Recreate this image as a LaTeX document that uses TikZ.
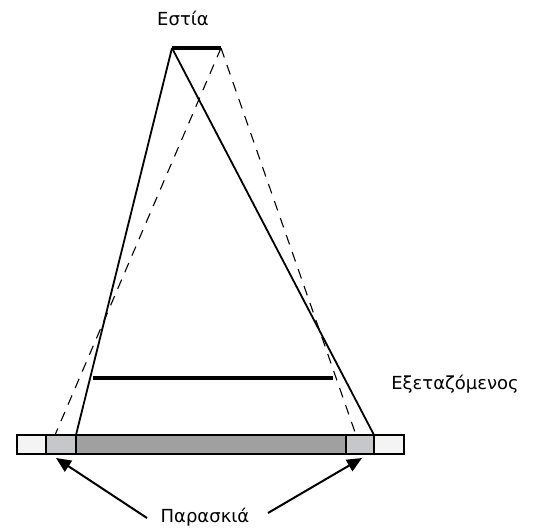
\documentclass[tikz,border=0pt]{standalone}
\usepackage{fontspec}
\setmainfont{DejaVu Sans}
\usetikzlibrary{arrows.meta}
\definecolor{pale}{HTML}{F4F4F4}
\definecolor{lgray}{HTML}{C6C7C8}
\definecolor{dgray}{HTML}{A0A0A0}
\tikzset{
  ray/.style={line width=1.8pt},
  dray/.style={line width=1.1pt, dash pattern=on 10pt off 8pt},
  bar/.style={line width=3.2pt},
  cell/.style={draw=black, line width=1.8pt},
  lab/.style={font=\fontsize{18}{21}\selectfont, inner sep=0pt},
  pointer/.style={line width=2pt, -{Triangle[length=15pt,width=13pt]}}
}
\begin{document}
\begin{tikzpicture}[x=1pt,y=-1pt]
\useasboundingbox (0,0) rectangle (538,532);
% screen strip
\draw[cell, fill=pale] (17,435) rectangle (46,454);
\draw[cell, fill=lgray] (46,435) rectangle (76,454);
\draw[cell, fill=dgray] (76,435) rectangle (346,454);
\draw[cell, fill=lgray] (346,435) rectangle (374,454);
\draw[cell, fill=pale] (374,435) rectangle (404,454);
% coordinates
\coordinate (fA) at (172,48);
\coordinate (fB) at (221,48);
\coordinate (sL) at (76,435);
\coordinate (sR) at (374,435);
\coordinate (dL) at (55,435);
\coordinate (dR) at (356,435);
\coordinate (oA) at (93,378);
\coordinate (oB) at (333,378);
% focus and object
\draw[bar] (fA) -- (fB);
\draw[bar] (oA) -- (oB);
% rays
\draw[ray] (fA) -- (sL);
\draw[ray] (fA) -- (sR);
\draw[dray] (fB) -- (dL);
\draw[dray] (fB) -- (dR);
% labels
\node[lab] (focus) at (183,18) {Εστία};
\node[lab] (object) at (455,384) {Εξεταζόμενος};
\node[lab] (pen) at (205,517) {Παρασκιά};
\coordinate (tipL) at (56,458);
\coordinate (tipR) at (362,458);
\draw[pointer] (147,518) coordinate (tailL) -- (tipL);
\draw[pointer] (268,513) coordinate (tailR) -- (tipR);
\end{tikzpicture}
\end{document}
